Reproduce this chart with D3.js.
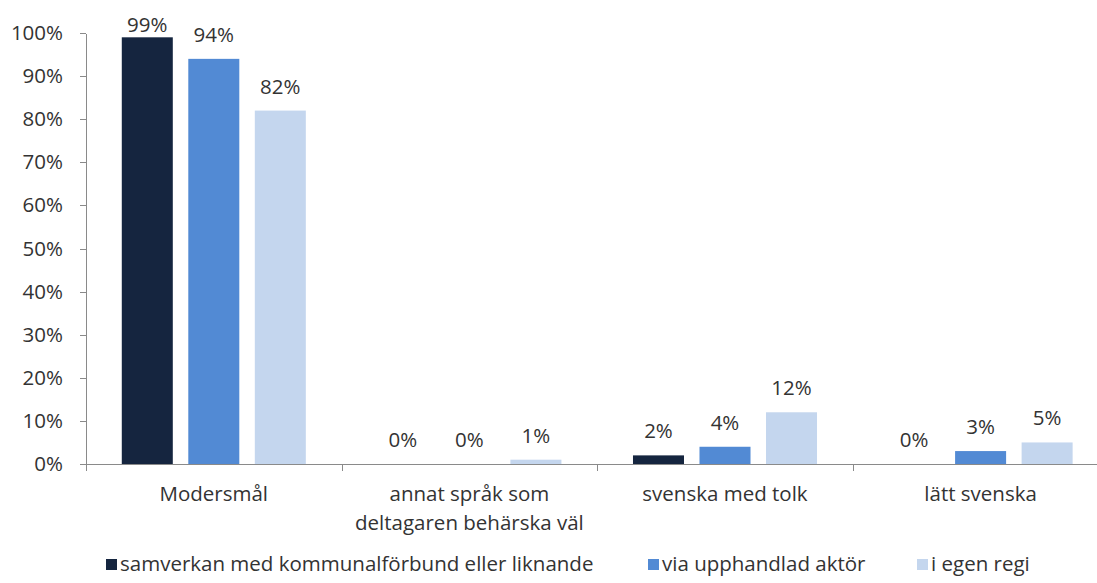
<!DOCTYPE html>
<meta charset="utf-8">
<title>Tolkning per språk och organisering</title>
<style>
body {
  margin: 0;
  background: #fff;
}

text {
  font-family: "Open Sans", sans-serif;
  font-size: 20.5px;
  fill: #333;
}

.axis path,
.axis line {
  stroke: #8a8a8a;
  stroke-width: 1px;
  shape-rendering: crispEdges;
}
</style>
<body>
<div id="chart"></div>

<script src="https://d3js.org/d3.v7.min.js"></script>
<script>
// Data
const categories = ["Modersmål", "annat språk som\ndeltagaren behärska väl", "svenska med tolk", "lätt svenska"];
const seriesNames = ["samverkan med kommunalförbund eller liknande", "via upphandlad aktör", "i egen regi"];
const samverkan = [0.99, 0.00, 0.02, 0.00];
const upphandlad = [0.94, 0.00, 0.04, 0.03];
const egenRegi = [0.82, 0.01, 0.12, 0.05];
const yTicks = [0, 0.1, 0.2, 0.3, 0.4, 0.5, 0.6, 0.7, 0.8, 0.9, 1.0];

const seriesValues = [samverkan, upphandlad, egenRegi];
const colors = ["#15253f", "#528ad4", "#c4d6ee"];

// Dimensions
const width = 1097;
const height = 583;
const plotLeft = 86;
const plotTop = 33;
const plotBottom = 464;
const bandWidth = 255.6;

const svg = d3.select("#chart")
  .append("svg")
    .attr("width", width)
    .attr("height", height);

// Scales
const x = d3.scaleBand()
    .domain(categories)
    .range([plotLeft, plotLeft + bandWidth * categories.length])
    .paddingInner(0)
    .paddingOuter(0);

const xInner = d3.scaleBand()
    .domain(seriesNames)
    .range([0, x.bandwidth()])
    .paddingInner(0.233)
    .paddingOuter(0.538);

const y = d3.scaleLinear()
    .domain([0, 1])
    .range([plotBottom, plotTop]);

const fmt = d3.format(".0%");

// Y axis
const yAxis = svg.append("g")
    .attr("class", "axis")
    .attr("transform", `translate(${plotLeft},0)`)
    .call(d3.axisLeft(y).tickValues(yTicks).tickFormat(fmt).tickSize(6).tickPadding(17).tickSizeOuter(0));

yAxis.selectAll("text")
    .attr("dy", "0.32em")
    .style("font-family", "'Open Sans', sans-serif")
    .style("font-size", "20.5px")
    .attr("fill", "#333");

// X axis line and category separators
const xAxis = svg.append("g")
    .attr("class", "axis");

xAxis.append("line")
    .attr("x1", plotLeft)
    .attr("x2", width)
    .attr("y1", plotBottom + 0.5)
    .attr("y2", plotBottom + 0.5);

xAxis.selectAll(".sep")
    .data(categories)
    .enter().append("line")
      .attr("class", "sep")
      .attr("x1", d => Math.round(x(d)) + 0.5)
      .attr("x2", d => Math.round(x(d)) + 0.5)
      .attr("y1", plotBottom)
      .attr("y2", plotBottom + 7);

// Category labels
const catLabels = svg.selectAll(".cat")
    .data(categories)
    .enter().append("text")
      .attr("class", "cat")
      .attr("text-anchor", "middle")
      .attr("x", d => x(d) + x.bandwidth() / 2)
      .attr("y", 501);

catLabels.selectAll("tspan")
    .data(d => d.split("\n").map(line => ({ line, cat: d })))
    .enter().append("tspan")
      .attr("x", d => x(d.cat) + x.bandwidth() / 2)
      .attr("dy", (d, i) => i === 0 ? 0 : 29)
      .text(d => d.line);

// Bars
const groups = svg.selectAll(".group")
    .data(categories)
    .enter().append("g")
      .attr("class", "group")
      .attr("transform", d => `translate(${x(d)},0)`);

groups.selectAll("rect")
    .data((c, ci) => seriesNames.map((s, si) => ({ s, si, v: seriesValues[si][ci] })))
    .enter().append("rect")
      .attr("x", d => xInner(d.s))
      .attr("width", xInner.bandwidth())
      .attr("y", d => y(d.v))
      .attr("height", d => plotBottom - y(d.v))
      .attr("fill", d => colors[d.si]);

// Value labels (pushed down when they would leave the plot at the top)
groups.selectAll(".val")
    .data((c, ci) => seriesNames.map((s, si) => ({ s, si, v: seriesValues[si][ci] })))
    .enter().append("text")
      .attr("class", "val")
      .attr("text-anchor", "middle")
      .attr("x", d => xInner(d.s) + xInner.bandwidth() / 2)
      .attr("y", d => Math.max(y(d.v) - 17, 32))
      .text(d => fmt(d.v));

// Legend
const legendX = [106, 648, 917];
const legend = svg.selectAll(".legend")
    .data(seriesNames)
    .enter().append("g")
      .attr("class", "legend")
      .attr("transform", (d, i) => `translate(${legendX[i]},571)`);

legend.append("rect")
    .attr("x", 0)
    .attr("y", -12)
    .attr("width", 11)
    .attr("height", 11)
    .attr("fill", (d, i) => colors[i]);

legend.append("text")
    .attr("x", 14)
    .attr("y", 0)
    .text(d => d);
</script>
</body>
</html>
